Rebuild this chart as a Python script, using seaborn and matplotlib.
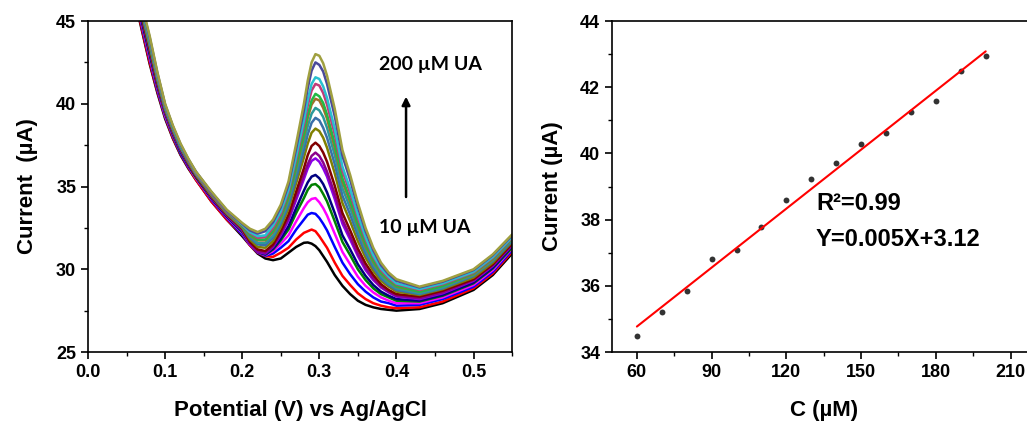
import numpy as np
import pandas as pd
import seaborn as sns
import matplotlib.pyplot as plt
from matplotlib.ticker import MultipleLocator

# ---- left panel: DPV curves, current (uA) read at these potentials (V)
potential_v = [0.05, 0.065, 0.08, 0.09, 0.10, 0.11, 0.12, 0.13, 0.14, 0.16, 0.18, 0.20, 0.21,
               0.22, 0.23, 0.24, 0.25, 0.26, 0.27, 0.28, 0.285, 0.29, 0.295, 0.30, 0.305, 0.31,
               0.32, 0.33, 0.34, 0.35, 0.36, 0.37, 0.38, 0.39, 0.40, 0.43, 0.46, 0.50, 0.525, 0.55]

# one row per trace, lowest (black) to highest (olive) peak
dpv_current = [
    [49.0, 45.4, 42.4, 40.65, 39.1, 37.9, 36.9, 36.1, 35.4, 34.1, 33.0, 32.0, 31.45, 30.95, 30.65, 30.55, 30.65, 31.0, 31.35, 31.6, 31.62, 31.55, 31.4, 31.15, 30.8, 30.45, 29.65, 29.0, 28.5, 28.1, 27.85, 27.7, 27.6, 27.55, 27.5, 27.6, 27.95, 28.75, 29.65, 30.95],
    [49.1, 45.5, 42.5, 40.75, 39.2, 37.95, 36.95, 36.15, 35.4, 34.1, 33.0, 32.1, 31.45, 31.0, 30.8, 30.75, 31.0, 31.3, 31.8, 32.2, 32.3, 32.4, 32.3, 32.0, 31.65, 31.3, 30.4, 29.6, 29.05, 28.55, 28.2, 27.95, 27.8, 27.7, 27.65, 27.7, 28.05, 28.85, 29.75, 31.05],
    [49.2, 45.65, 42.7, 40.85, 39.25, 38.05, 37.0, 36.2, 35.5, 34.2, 33.1, 32.1, 31.5, 31.02, 30.82, 30.95, 31.3, 31.7, 32.4, 33.0, 33.3, 33.4, 33.35, 33.1, 32.75, 32.35, 31.35, 30.4, 29.7, 29.1, 28.65, 28.3, 28.05, 27.95, 27.8, 27.85, 28.2, 28.95, 29.85, 31.15],
    [49.25, 45.8, 42.8, 40.95, 39.3, 38.1, 37.1, 36.25, 35.5, 34.25, 33.15, 32.2, 31.5, 31.03, 30.85, 31.1, 31.55, 32.05, 32.9, 33.7, 34.05, 34.25, 34.3, 34.05, 33.7, 33.25, 32.15, 31.05, 30.3, 29.55, 29.0, 28.6, 28.3, 28.1, 27.95, 27.95, 28.3, 29.05, 29.95, 31.25],
    [49.3, 45.9, 42.95, 41.05, 39.4, 38.15, 37.1, 36.3, 35.55, 34.3, 33.2, 32.25, 31.55, 31.05, 30.88, 31.2, 31.75, 32.4, 33.4, 34.3, 34.8, 35.1, 35.15, 34.95, 34.55, 34.1, 32.9, 31.65, 30.85, 30.0, 29.35, 28.85, 28.5, 28.3, 28.1, 28.05, 28.4, 29.15, 30.05, 31.3],
    [49.4, 45.95, 43.05, 41.1, 39.45, 38.2, 37.15, 36.3, 35.6, 34.3, 33.2, 32.3, 31.55, 31.05, 30.9, 31.25, 31.85, 32.6, 33.7, 34.75, 35.25, 35.6, 35.7, 35.5, 35.15, 34.65, 33.4, 32.05, 31.2, 30.3, 29.6, 29.05, 28.65, 28.4, 28.2, 28.1, 28.45, 29.2, 30.1, 31.4],
    [49.45, 46.1, 43.2, 41.2, 39.5, 38.25, 37.2, 36.35, 35.65, 34.35, 33.25, 32.35, 31.55, 31.05, 30.95, 31.35, 32.05, 32.95, 34.2, 35.45, 36.1, 36.55, 36.7, 36.5, 36.1, 35.6, 34.25, 32.75, 31.8, 30.8, 29.95, 29.35, 28.9, 28.6, 28.35, 28.2, 28.55, 29.3, 30.2, 31.45],
    [49.5, 46.15, 43.25, 41.25, 39.55, 38.3, 37.25, 36.4, 35.65, 34.4, 33.3, 32.4, 31.6, 31.08, 31.0, 31.4, 32.15, 33.1, 34.4, 35.7, 36.35, 36.85, 37.05, 36.85, 36.45, 35.9, 34.55, 33.0, 32.0, 30.95, 30.1, 29.45, 28.95, 28.65, 28.4, 28.25, 28.6, 29.35, 30.25, 31.5],
    [49.55, 46.2, 43.3, 41.3, 39.6, 38.35, 37.3, 36.4, 35.65, 34.4, 33.3, 32.45, 31.65, 31.2, 31.1, 31.5, 32.3, 33.3, 34.7, 36.1, 36.9, 37.45, 37.65, 37.45, 37.05, 36.5, 35.05, 33.4, 32.35, 31.25, 30.35, 29.65, 29.1, 28.75, 28.5, 28.35, 28.7, 29.4, 30.3, 31.55],
    [49.6, 46.3, 43.45, 41.4, 39.65, 38.4, 37.35, 36.45, 35.7, 34.45, 33.35, 32.5, 31.8, 31.35, 31.3, 31.7, 32.55, 33.65, 35.2, 36.75, 37.6, 38.25, 38.5, 38.35, 37.95, 37.35, 35.8, 34.0, 32.9, 31.7, 30.7, 29.9, 29.3, 28.95, 28.65, 28.45, 28.8, 29.5, 30.4, 31.65],
    [49.65, 46.4, 43.55, 41.5, 39.7, 38.45, 37.35, 36.5, 35.75, 34.5, 33.4, 32.55, 31.9, 31.5, 31.45, 31.9, 32.75, 33.85, 35.5, 37.2, 38.15, 38.85, 39.15, 39.0, 38.55, 37.95, 36.35, 34.45, 33.3, 32.05, 30.95, 30.1, 29.45, 29.05, 28.75, 28.5, 28.85, 29.6, 30.5, 31.7],
    [49.7, 46.5, 43.6, 41.55, 39.75, 38.5, 37.4, 36.55, 35.75, 34.55, 33.45, 32.6, 32.0, 31.6, 31.6, 32.05, 32.9, 34.1, 35.85, 37.65, 38.65, 39.4, 39.75, 39.6, 39.2, 38.55, 36.9, 34.9, 33.7, 32.35, 31.2, 30.3, 29.6, 29.15, 28.85, 28.55, 28.9, 29.65, 30.55, 31.8],
    [49.75, 46.55, 43.7, 41.6, 39.8, 38.5, 37.45, 36.55, 35.8, 34.55, 33.45, 32.6, 32.05, 31.75, 31.75, 32.25, 33.1, 34.3, 36.15, 38.05, 39.15, 39.95, 40.3, 40.2, 39.75, 39.1, 37.35, 35.3, 34.05, 32.65, 31.4, 30.45, 29.75, 29.3, 28.95, 28.65, 29.0, 29.7, 30.6, 31.85],
    [49.8, 46.6, 43.75, 41.65, 39.8, 38.55, 37.45, 36.6, 35.8, 34.6, 33.5, 32.65, 32.1, 31.8, 31.8, 32.35, 33.2, 34.4, 36.3, 38.25, 39.35, 40.2, 40.6, 40.45, 40.05, 39.35, 37.6, 35.5, 34.2, 32.75, 31.55, 30.55, 29.8, 29.35, 29.0, 28.65, 29.0, 29.75, 30.65, 31.85],
    [49.85, 46.65, 43.85, 41.7, 39.85, 38.6, 37.5, 36.6, 35.8, 34.6, 33.5, 32.7, 32.2, 31.9, 31.95, 32.5, 33.35, 34.65, 36.65, 38.7, 39.9, 40.8, 41.2, 41.1, 40.65, 39.95, 38.15, 35.95, 34.6, 33.1, 31.8, 30.75, 29.95, 29.45, 29.1, 28.75, 29.1, 29.8, 30.7, 31.9],
    [49.9, 46.7, 43.9, 41.75, 39.9, 38.6, 37.5, 36.65, 35.85, 34.65, 33.55, 32.7, 32.25, 32.0, 32.05, 32.65, 33.5, 34.8, 36.85, 39.0, 40.25, 41.2, 41.6, 41.5, 41.05, 40.35, 38.5, 36.2, 34.85, 33.3, 31.95, 30.85, 30.05, 29.55, 29.15, 28.8, 29.15, 29.85, 30.75, 31.95],
    [49.95, 46.85, 44.0, 41.85, 39.95, 38.65, 37.55, 36.65, 35.9, 34.65, 33.55, 32.75, 32.35, 32.15, 32.3, 32.85, 33.75, 35.1, 37.3, 39.6, 40.95, 42.0, 42.5, 42.35, 41.95, 41.2, 39.25, 36.85, 35.4, 33.75, 32.3, 31.15, 30.25, 29.7, 29.3, 28.9, 29.25, 29.95, 30.85, 32.05],
    [50.0, 46.9, 44.1, 41.9, 40.0, 38.7, 37.6, 36.7, 35.9, 34.7, 33.6, 32.8, 32.45, 32.25, 32.45, 33.0, 33.9, 35.3, 37.6, 40.0, 41.4, 42.5, 43.0, 42.9, 42.45, 41.7, 39.7, 37.2, 35.7, 34.0, 32.5, 31.3, 30.4, 29.8, 29.4, 28.95, 29.3, 30.0, 30.9, 32.1],
]

curve_colors = ['#000000', '#ff0000', '#0000ff', '#ff00ff', '#008000', '#000080', '#8a00e6', '#8b008b',
                '#800000', '#808000', '#3a6fa8', '#2a9a9a', '#a07028', '#22b844', '#c03a78', '#28c0d0',
                '#4a4a9a', '#a0a040']

# ---- right panel: calibration
conc_um = [60, 70, 80, 90, 100, 110, 120, 130, 140, 150, 160, 170, 180, 190, 200]
peak_ua = [34.47, 35.20, 35.84, 36.81, 37.07, 37.79, 38.60, 39.23, 39.72, 40.29, 40.61, 41.26, 41.58, 42.48, 42.95]

sns.set_style("ticks")
plt.rcParams['font.family'] = ['Liberation Sans', 'DejaVu Sans']
plt.rcParams['font.weight'] = 'bold'
plt.rcParams['axes.labelweight'] = 'bold'
plt.rcParams['axes.linewidth'] = 1.2
plt.rcParams['text.color'] = 'black'
plt.rcParams['axes.labelcolor'] = 'black'
plt.rcParams['axes.edgecolor'] = 'black'

rows = []
for i, vals in enumerate(dpv_current):
    assert len(vals) == len(potential_v), (i, len(vals))
    for e, cur in zip(potential_v, vals):
        rows.append((i, e, cur))
df = pd.DataFrame(rows, columns=['curve', 'E', 'I'])

fig = plt.figure(figsize=(10.27, 4.23), dpi=100)
ax1 = fig.add_axes([0.0857, 0.1678, 0.4129, 0.7825])
ax2 = fig.add_axes([0.5959, 0.1678, 0.4124, 0.7825])

sns.lineplot(data=df, x='E', y='I', hue='curve', palette=curve_colors, legend=False,
             lw=1.8, ax=ax1)
for ln in ax1.lines:
    ln.set_solid_joinstyle('round')
ax1.set_xlim(0, 0.55)
ax1.set_ylim(25, 45)
ax1.xaxis.set_major_locator(MultipleLocator(0.1))
ax1.xaxis.set_minor_locator(MultipleLocator(0.05))
ax1.yaxis.set_major_locator(MultipleLocator(5))
ax1.yaxis.set_minor_locator(MultipleLocator(2.5))
ax1.set_xlabel('Potential (V) vs Ag/AgCl', fontsize=16, labelpad=14)
ax1.set_ylabel('Current  (\u00b5A)', fontsize=16, labelpad=13)
ax1.annotate('', xy=(0.4125, 40.6), xytext=(0.4125, 34.2),
             arrowprops=dict(arrowstyle='-|>', color='black', lw=1.8, mutation_scale=12))
ax1.text(0.378, 42.4, '200 \u00b5M UA', fontsize=14, fontweight='bold', va='center',
         family=['Lato', 'DejaVu Sans'])
ax1.text(0.378, 32.5, '10 \u00b5M UA', fontsize=14, fontweight='bold', va='center',
         family=['Lato', 'DejaVu Sans'])

sns.regplot(x=conc_um, y=peak_ua, ci=None, ax=ax2, truncate=True,
            scatter_kws=dict(s=18, color='black', linewidths=0),
            line_kws=dict(color='red', lw=1.5))
ax2.set_xlim(50, 220)
ax2.set_ylim(34, 44)
ax2.xaxis.set_major_locator(MultipleLocator(30))
ax2.xaxis.set_minor_locator(MultipleLocator(15))
ax2.yaxis.set_major_locator(MultipleLocator(2))
ax2.yaxis.set_minor_locator(MultipleLocator(1))
ax2.set_xlabel('C (\u00b5M)', fontsize=16, labelpad=14)
ax2.set_ylabel('Current (\u00b5A)', fontsize=16, labelpad=12)
ax2.spines['right'].set_visible(False)
ax2.text(131.9, 38.5, 'R\u00b2=0.99', fontsize=17, fontweight='bold', va='center')
ax2.text(131.9, 37.41, 'Y=0.005X+3.12', fontsize=17, fontweight='bold', va='center')

for ax in (ax1, ax2):
    ax.tick_params(which='major', direction='out', length=5, width=1.2, labelsize=13, colors='black')
    ax.tick_params(which='minor', direction='out', length=3, width=1.0, colors='black')
    for lab in ax.get_xticklabels() + ax.get_yticklabels():
        lab.set_fontweight('bold')

fig.savefig('out.png', dpi=100)
